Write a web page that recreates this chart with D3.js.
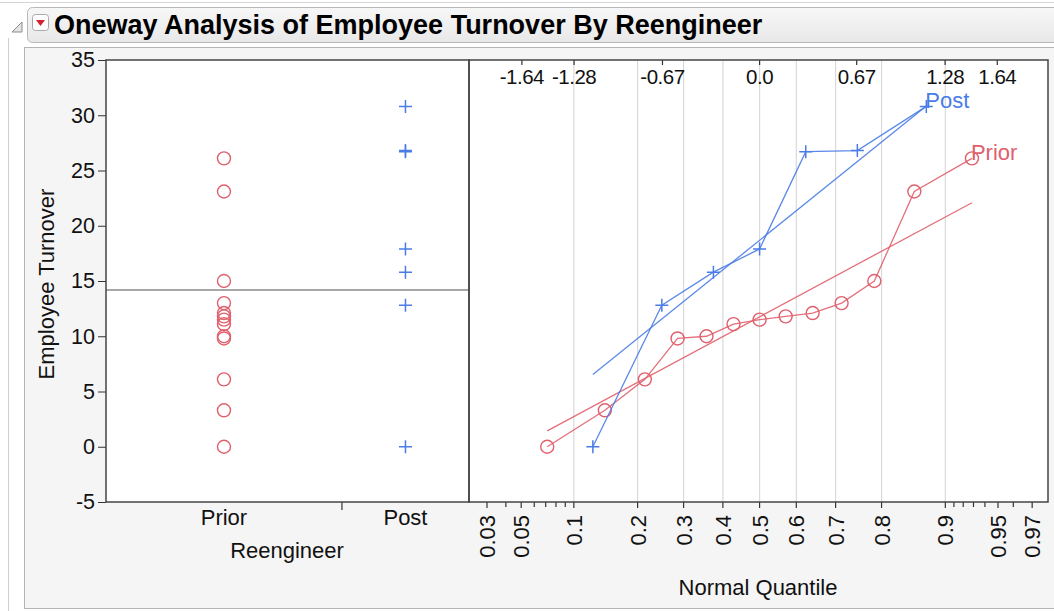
<!DOCTYPE html>
<html>
<head>
<meta charset="utf-8">
<script src="https://cdn.jsdelivr.net/npm/d3@7"></script>
<style>
  body { margin: 0; background: #fff; }
  svg { display: block; font-family: "Liberation Sans", Arial, sans-serif; }
</style>
</head>
<body>
<svg id="grafico" width="1054" height="611"></svg>
<script>
var grupos = ["Prior", "Post"]
var prior = [0, 3.3, 6.1, 9.8, 10.0, 11.1, 11.5, 11.8, 12.1, 13.0, 15.0, 23.1, 26.1]
var post = [0, 12.8, 15.8, 17.9, 26.7, 26.8, 30.8]
var ticksY = [-5, 0, 5, 10, 15, 20, 25, 30, 35]
var ticksCuantil = [-1.64, -1.28, -0.67, 0.0, 0.67, 1.28, 1.64]
var etiquetasCuantil = ["-1.64", "-1.28", "-0.67", "0.0", "0.67", "1.28", "1.64"]
var ticksProb = [0.03, 0.05, 0.1, 0.2, 0.3, 0.4, 0.5, 0.6, 0.7, 0.8, 0.9, 0.95, 0.97]
var ticksProbMenores = [0.04, 0.06, 0.07, 0.08, 0.09, 0.91, 0.92, 0.93, 0.94, 0.96]
var rejilla = [0.1, 0.2, 0.3, 0.4, 0.5, 0.6, 0.7, 0.8, 0.9]

var colores = { Prior: "#e0606d", Post: "#4a7ce6" }
var datos = { Prior: prior, Post: post }

// inversa de la normal (Acklam)
function probit(p) {
    var a = [-39.69683028665376, 220.9460984245205, -275.9285104469687, 138.3577518672690, -30.66479806614716, 2.506628277459239];
    var b = [-54.47609879822406, 161.5858368580409, -155.6989798598866, 66.80131188771972, -13.28068155288572];
    var c = [-0.007784894002430293, -0.3223964580411365, -2.400758277161838, -2.549732539343734, 4.374664141464968, 2.938163982698783];
    var d = [0.007784695709041462, 0.3224671290700398, 2.445134137142996, 3.754408661907416];
    var q, r;
    if (p < 0.02425) {
        q = Math.sqrt(-2 * Math.log(p));
        return (((((c[0] * q + c[1]) * q + c[2]) * q + c[3]) * q + c[4]) * q + c[5]) / ((((d[0] * q + d[1]) * q + d[2]) * q + d[3]) * q + 1);
    }
    if (p > 1 - 0.02425) {
        q = Math.sqrt(-2 * Math.log(1 - p));
        return -(((((c[0] * q + c[1]) * q + c[2]) * q + c[3]) * q + c[4]) * q + c[5]) / ((((d[0] * q + d[1]) * q + d[2]) * q + d[3]) * q + 1);
    }
    q = p - 0.5; r = q * q;
    return (((((a[0] * r + a[1]) * r + a[2]) * r + a[3]) * r + a[4]) * r + a[5]) * q / (((((b[0] * r + b[1]) * r + b[2]) * r + b[3]) * r + b[4]) * r + 1);
}

var svg = d3.select("#grafico")

// marco exterior y cabecera
svg.append("line").attr("x1", 8.5).attr("x2", 8.5).attr("y1", 38).attr("y2", 611).attr("stroke", "#cfcfcf")
svg.append("line").attr("x1", 0).attr("x2", 1054).attr("y1", 2.5).attr("y2", 2.5).attr("stroke", "#d4d4d4")
svg.append("rect").attr("x", 24.5).attr("y", 47.5).attr("width", 1040).attr("height", 561)
    .attr("fill", "#f5f5f5").attr("stroke", "#b4b4b4")

var grad = svg.append("defs").append("linearGradient").attr("id", "cab").attr("x1", 0).attr("x2", 0).attr("y1", 0).attr("y2", 1)
grad.append("stop").attr("offset", "0%").attr("stop-color", "#f7f7f7")
grad.append("stop").attr("offset", "100%").attr("stop-color", "#e8e8e8")
svg.append("rect").attr("x", 27.5).attr("y", 7.5).attr("width", 1040).attr("height", 35).attr("rx", 5)
    .attr("fill", "url(#cab)").attr("stroke", "#b8b8b8")

svg.append("path").attr("d", "M12,32L22,32L22,22Z").attr("fill", "#e4e4e4").attr("stroke", "#8c8c8c")
svg.append("rect").attr("x", 32.5).attr("y", 14.5).attr("width", 16).attr("height", 16).attr("rx", 3)
    .attr("fill", "#fff").attr("stroke", "#a8a8a8")
svg.append("path").attr("d", "M36,20L45,20L40.5,26Z").attr("fill", "#d4212b")

svg.append("text").attr("x", 54).attr("y", 34)
    .attr("font-size", "27px").attr("font-weight", "bold").attr("fill", "#000")
    .text("Oneway Analysis of Employee Turnover By Reengineer")

// escalas
var y = d3.scaleLinear().domain([-5, 35]).range([502, 60])
var total = prior.length + post.length
var xCuenta = d3.scaleLinear().domain([0, total]).range([106, 469])
var xZ = d3.scaleLinear().domain([-2.005, 1.99]).range([469, 1048])

var centro = {
    Prior: xCuenta(prior.length / 2),
    Post: xCuenta(prior.length + post.length / 2)
}

// paneles
svg.append("rect").attr("x", 106).attr("y", 60).attr("width", 363).attr("height", 442).attr("fill", "#fff")
svg.append("rect").attr("x", 469).attr("y", 60).attr("width", 579).attr("height", 442).attr("fill", "#fff")

svg.append("g").selectAll("line")
    .data(rejilla)
    .enter().append("line")
    .attr("x1", function (d) { return xZ(probit(d)) })
    .attr("x2", function (d) { return xZ(probit(d)) })
    .attr("y1", 60).attr("y2", 502)
    .attr("stroke", "#d9d9d9").attr("stroke-width", 1.2)

// eje Y
var ejeY = svg.append("g")
    .attr("transform", "translate(106,0)")
    .call(d3.axisLeft(y).tickValues(ticksY).tickSize(8).tickPadding(3).tickFormat(function (d) { return String(d) }))
ejeY.select(".domain").remove()
ejeY.selectAll("line").attr("stroke", "#333")
ejeY.selectAll("text").attr("font-size", "21.5px").attr("fill", "#111").attr("font-family", "Liberation Sans, Arial, sans-serif")

svg.append("text")
    .attr("transform", "translate(54,284) rotate(-90)")
    .attr("text-anchor", "middle")
    .attr("font-size", "22px").attr("fill", "#111")
    .text("Employee Turnover")

// categorias
svg.append("line").attr("x1", xCuenta(prior.length)).attr("x2", xCuenta(prior.length))
    .attr("y1", 502).attr("y2", 510).attr("stroke", "#333").attr("stroke-width", 1.2)
svg.selectAll(".cat")
    .data(grupos)
    .enter().append("text")
    .attr("class", "cat")
    .attr("x", function (d) { return centro[d] })
    .attr("y", 525)
    .attr("text-anchor", "middle")
    .attr("font-size", "22px").attr("fill", "#111")
    .text(function (d) { return d })
svg.append("text").attr("x", 287).attr("y", 558).attr("text-anchor", "middle")
    .attr("font-size", "22px").attr("fill", "#111").text("Reengineer")

// linea de la media global
var media = d3.mean(prior.concat(post))
svg.append("line").attr("x1", 106).attr("x2", 469).attr("y1", y(media)).attr("y2", y(media))
    .attr("stroke", "#8a8a8a").attr("stroke-width", 1.3)

function pintaMarca(g, grupo) {
    if (grupo == "Prior") {
        g.append("circle").attr("r", 6.5).attr("fill", "none")
            .attr("stroke", colores[grupo]).attr("stroke-width", 1.4)
    } else {
        g.append("path").attr("d", "M-6.5,0H6.5M0,-6.5V6.5").attr("fill", "none")
            .attr("stroke", colores[grupo]).attr("stroke-width", 1.5)
    }
}

grupos.forEach(function (grupo) {
    svg.append("g").selectAll("g")
        .data(datos[grupo])
        .enter().append("g")
        .attr("transform", function (d) { return "translate(" + centro[grupo] + "," + y(d) + ")" })
        .each(function () { pintaMarca(d3.select(this), grupo) })
})

// grafico de cuantiles normales
var linea = d3.line()
    .x(function (d) { return xZ(d.z) })
    .y(function (d) { return y(d.v) })

grupos.forEach(function (grupo) {
    var vals = datos[grupo].slice().sort(d3.ascending)
    var n = vals.length
    var puntos = vals.map(function (v, i) { return { v: v, z: probit((i + 1) / (n + 1)) } })
    var m = d3.mean(vals), s = d3.deviation(vals)
    var z0 = puntos[0].z, z1 = puntos[n - 1].z
    var ajuste = [{ z: z0, v: m + s * z0 }, { z: z1, v: m + s * z1 }]

    svg.append("path").datum(ajuste).attr("d", linea)
        .attr("fill", "none").attr("stroke", colores[grupo]).attr("stroke-width", 1.3).attr("opacity", 0.9)
    svg.append("path").datum(puntos).attr("d", linea)
        .attr("fill", "none").attr("stroke", colores[grupo]).attr("stroke-width", 1.3).attr("opacity", 0.9)

    svg.append("g").selectAll("g")
        .data(puntos)
        .enter().append("g")
        .attr("transform", function (d) { return "translate(" + xZ(d.z) + "," + y(d.v) + ")" })
        .each(function () { pintaMarca(d3.select(this), grupo) })

    svg.append("text")
        .attr("x", xZ(z1) - 1).attr("y", y(vals[n - 1]) + 1.5)
        .attr("font-size", "22px").attr("fill", colores[grupo])
        .text(grupo)
})

// eje superior de cuantiles
svg.append("g").selectAll("line")
    .data(ticksCuantil)
    .enter().append("line")
    .attr("x1", function (d) { return xZ(d) }).attr("x2", function (d) { return xZ(d) })
    .attr("y1", 60).attr("y2", 65)
    .attr("stroke", "#333").attr("stroke-width", 1.2)
svg.append("g").selectAll("text")
    .data(ticksCuantil)
    .enter().append("text")
    .attr("x", function (d) { return xZ(d) })
    .attr("y", 84)
    .attr("text-anchor", "middle")
    .attr("font-size", "20.5px").attr("fill", "#111")
    .attr("letter-spacing", "-0.5px")
    .text(function (d, i) { return etiquetasCuantil[i] })

// eje inferior de probabilidad
svg.append("g").selectAll("line")
    .data(ticksProb.concat(ticksProbMenores))
    .enter().append("line")
    .attr("x1", function (d) { return xZ(probit(d)) }).attr("x2", function (d) { return xZ(probit(d)) })
    .attr("y1", 502).attr("y2", function (d) { return ticksProb.indexOf(d) >= 0 ? 508 : 507 })
    .attr("stroke", "#333").attr("stroke-width", 1.2)
svg.append("g").selectAll("text")
    .data(ticksProb)
    .enter().append("text")
    .attr("transform", function (d) { return "translate(" + (xZ(probit(d)) + 8) + ",515) rotate(-90)" })
    .attr("text-anchor", "end")
    .attr("font-size", "22px").attr("fill", "#111")
    .text(function (d) { return String(d) })

svg.append("text").attr("x", 758).attr("y", 595).attr("text-anchor", "middle")
    .attr("font-size", "22px").attr("fill", "#111").text("Normal Quantile")

// marcos de los paneles
svg.append("rect").attr("x", 106).attr("y", 60).attr("width", 363).attr("height", 442)
    .attr("fill", "none").attr("stroke", "#444").attr("stroke-width", 1.5)
svg.append("rect").attr("x", 469).attr("y", 60).attr("width", 579).attr("height", 442)
    .attr("fill", "none").attr("stroke", "#444").attr("stroke-width", 1.5)
</script>
</body>
</html>
